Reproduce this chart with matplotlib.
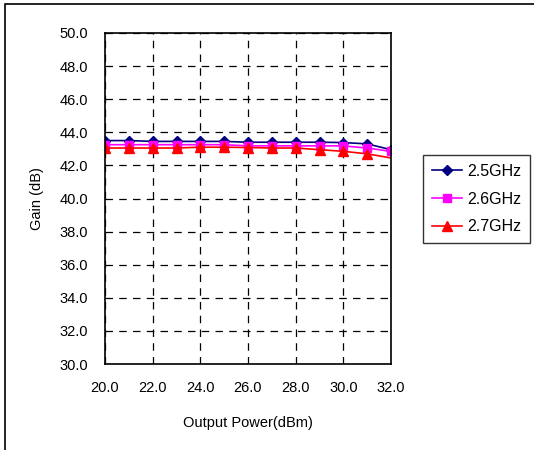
import matplotlib
matplotlib.use('Agg')
import matplotlib.pyplot as plt
from matplotlib.patches import Rectangle

plt.rcParams['font.family'] = ['Liberation Sans', 'DejaVu Sans']

# output power (dBm)
power = [20, 21, 22, 23, 24, 25, 26, 27, 28, 29, 30, 31, 32]

# gain (dB) per frequency
gain_25 = [43.50, 43.50, 43.45, 43.45, 43.45, 43.45, 43.40, 43.40, 43.40, 43.40, 43.38, 43.30, 42.95]
gain_26 = [43.25, 43.25, 43.25, 43.25, 43.25, 43.25, 43.18, 43.18, 43.18, 43.18, 43.18, 43.05, 42.85]
gain_27 = [43.05, 43.05, 43.05, 43.05, 43.10, 43.10, 43.08, 43.05, 43.05, 42.95, 42.85, 42.70, 42.45]

labels = ['2.5GHz', '2.6GHz', '2.7GHz']
xticks = [20, 22, 24, 26, 28, 30, 32]
yticks = [30, 32, 34, 36, 38, 40, 42, 44, 46, 48, 50]

fig = plt.figure(figsize=(5.34, 4.5), dpi=100)
# outer frame (runs off the right/bottom edges like the original)
fig.patches.append(Rectangle((5 / 534, -0.05), 1.1, 1 - 4 / 450 + 0.05,
                             transform=fig.transFigure, fill=False,
                             edgecolor='black', linewidth=1.2))

ax = fig.add_axes([105 / 534, 1 - 364 / 450, 286 / 534, 331 / 450])

ax.plot(power, gain_25, color='#000080', marker='D', markersize=5,
        linewidth=1.2, label=labels[0])
ax.plot(power, gain_26, color='#FF00FF', marker='s', markersize=6,
        linewidth=1.2, label=labels[1])
ax.plot(power, gain_27, color='#FF0000', marker='^', markersize=7,
        linewidth=1.2, label=labels[2], markevery=list(range(12)))

ax.set_xlim(20, 32)
ax.set_ylim(30, 50)
ax.set_xticks(xticks)
ax.set_yticks(yticks)
ax.set_xticklabels(['%.1f' % t for t in xticks])
ax.set_yticklabels(['%.1f' % t for t in yticks])
ax.tick_params(length=0, labelsize=10.5, pad=12)
ax.grid(True, color='black', linestyle=(0, (6, 5)), linewidth=0.9)
for s in ax.spines.values():
    s.set_linewidth(1.2)

ax.set_xlabel('Output Power(dBm)', fontsize=10.5, labelpad=15)
ax.set_ylabel('Gain (dB)', fontsize=10.5, labelpad=11)

leg = ax.legend(loc='upper left', bbox_to_anchor=(423 / 534, 1 - 155 / 450),
                bbox_transform=fig.transFigure, fontsize=11.5, frameon=True,
                fancybox=False, edgecolor='black', handlelength=1.9,
                handletextpad=0.3, borderpad=0.55, labelspacing=0.8,
                borderaxespad=0)
leg.get_frame().set_linewidth(1.0)

fig.savefig('out.png', dpi=100)
